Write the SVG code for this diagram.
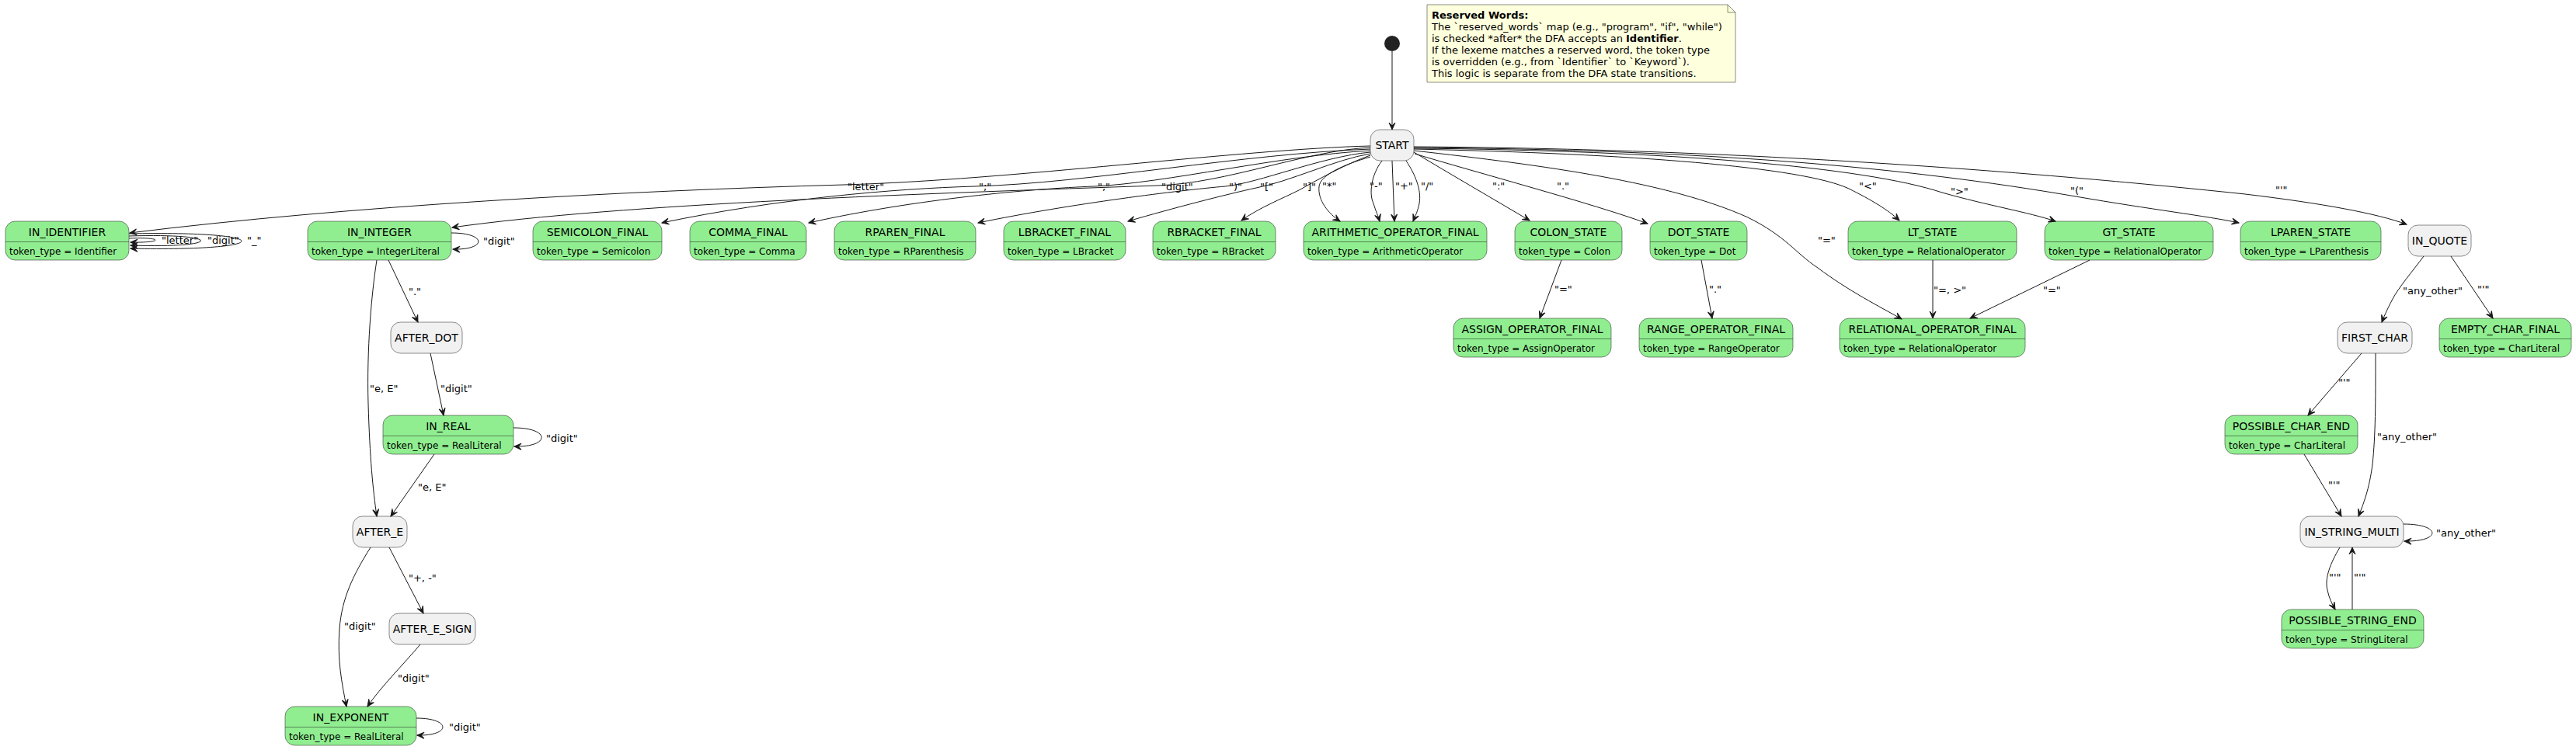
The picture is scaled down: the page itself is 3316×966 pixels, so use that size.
<svg xmlns="http://www.w3.org/2000/svg" width="3316" height="966" viewBox="0 0 3316 966">
<style>
.g{fill:#90EE90;stroke:#181818;stroke-width:0.5}
.s{fill:#F1F1F1;stroke:#181818;stroke-width:0.5}
.sep{stroke:#181818;stroke-width:0.5}
.n{font-family:"DejaVu Sans",sans-serif;font-size:14px;text-anchor:middle;fill:#000}
.d{font-family:"DejaVu Sans",sans-serif;font-size:12px;fill:#000}
.l{font-family:"DejaVu Sans",sans-serif;font-size:13px;fill:#000}
.nt{font-family:"DejaVu Sans",sans-serif;font-size:13px;fill:#000}
.e{fill:none;stroke:#181818;stroke-width:1;marker-end:url(#a)}
</style>
<defs>
<marker id="a" markerUnits="userSpaceOnUse" markerWidth="14" markerHeight="12" viewBox="-11 -6 12 12" refX="0" refY="0" orient="auto">
<path d="M0,0 L-9,-4 L-5,0 L-9,4 Z" fill="#181818" stroke="#181818" stroke-width="1"/>
</marker>
</defs>
<rect width="3316" height="966" fill="#FFFFFF"/>

<g id="note">
<path d="M1837,6 L1837,106 L2234,106 L2234,16 L2224,6 Z" fill="#FEFFDD" stroke="#181818" stroke-width="0.5"/>
<path d="M2224,6 L2224,16 L2234,16" fill="none" stroke="#181818" stroke-width="0.5"/>
<text class="nt" x="1843" y="23.5" font-weight="bold">Reserved Words:</text>
<text class="nt" x="1843" y="38.6">The `reserved_words` map (e.g., "program", "if", "while")</text>
<text class="nt" x="1843" y="53.7">is checked *after* the DFA accepts an <tspan font-weight="bold">Identifier</tspan>.</text>
<text class="nt" x="1843" y="68.8">If the lexeme matches a reserved word, the token type</text>
<text class="nt" x="1843" y="83.9">is overridden (e.g., from `Identifier` to `Keyword`).</text>
<text class="nt" x="1843" y="99">This logic is separate from the DFA state transitions.</text>
</g>

<g id="initial"><circle cx="1792" cy="56" r="10" fill="#222222"/></g>

<g id="START"><rect class="s" x="1764" y="167" width="56" height="40" rx="12.5"/><text class="n" x="1792" y="192">START</text></g>

<g id="IN_IDENTIFIER"><rect class="g" x="7" y="285" width="159" height="50" rx="12.5"/><line class="sep" x1="7" y1="311.5" x2="166" y2="311.5"/><text class="n" x="86.5" y="304">IN_IDENTIFIER</text><text class="d" x="12" y="327.5">token_type = Identifier</text></g>
<g id="IN_INTEGER"><rect class="g" x="396" y="285" width="185" height="50" rx="12.5"/><line class="sep" x1="396" y1="311.5" x2="581" y2="311.5"/><text class="n" x="488.5" y="304">IN_INTEGER</text><text class="d" x="401" y="327.5">token_type = IntegerLiteral</text></g>
<g id="SEMICOLON_FINAL"><rect class="g" x="686" y="285" width="166" height="50" rx="12.5"/><line class="sep" x1="686" y1="311.5" x2="852" y2="311.5"/><text class="n" x="769" y="304">SEMICOLON_FINAL</text><text class="d" x="691" y="327.5">token_type = Semicolon</text></g>
<g id="COMMA_FINAL"><rect class="g" x="888" y="285" width="150" height="50" rx="12.5"/><line class="sep" x1="888" y1="311.5" x2="1038" y2="311.5"/><text class="n" x="963" y="304">COMMA_FINAL</text><text class="d" x="893" y="327.5">token_type = Comma</text></g>
<g id="RPAREN_FINAL"><rect class="g" x="1074" y="285" width="182" height="50" rx="12.5"/><line class="sep" x1="1074" y1="311.5" x2="1256" y2="311.5"/><text class="n" x="1165" y="304">RPAREN_FINAL</text><text class="d" x="1079" y="327.5">token_type = RParenthesis</text></g>
<g id="LBRACKET_FINAL"><rect class="g" x="1292" y="285" width="157" height="50" rx="12.5"/><line class="sep" x1="1292" y1="311.5" x2="1449" y2="311.5"/><text class="n" x="1370.5" y="304">LBRACKET_FINAL</text><text class="d" x="1297" y="327.5">token_type = LBracket</text></g>
<g id="RBRACKET_FINAL"><rect class="g" x="1484" y="285" width="158" height="50" rx="12.5"/><line class="sep" x1="1484" y1="311.5" x2="1642" y2="311.5"/><text class="n" x="1563" y="304">RBRACKET_FINAL</text><text class="d" x="1489" y="327.5">token_type = RBracket</text></g>
<g id="ARITHMETIC_OPERATOR_FINAL"><rect class="g" x="1678" y="285" width="236" height="50" rx="12.5"/><line class="sep" x1="1678" y1="311.5" x2="1914" y2="311.5"/><text class="n" x="1796" y="304">ARITHMETIC_OPERATOR_FINAL</text><text class="d" x="1683" y="327.5">token_type = ArithmeticOperator</text></g>
<g id="COLON_STATE"><rect class="g" x="1950" y="285" width="138" height="50" rx="12.5"/><line class="sep" x1="1950" y1="311.5" x2="2088" y2="311.5"/><text class="n" x="2019" y="304">COLON_STATE</text><text class="d" x="1955" y="327.5">token_type = Colon</text></g>
<g id="DOT_STATE"><rect class="g" x="2124" y="285" width="125" height="50" rx="12.5"/><line class="sep" x1="2124" y1="311.5" x2="2249" y2="311.5"/><text class="n" x="2186.5" y="304">DOT_STATE</text><text class="d" x="2129" y="327.5">token_type = Dot</text></g>
<g id="LT_STATE"><rect class="g" x="2379" y="285" width="217" height="50" rx="12.5"/><line class="sep" x1="2379" y1="311.5" x2="2596" y2="311.5"/><text class="n" x="2487.5" y="304">LT_STATE</text><text class="d" x="2384" y="327.5">token_type = RelationalOperator</text></g>
<g id="GT_STATE"><rect class="g" x="2632" y="285" width="217" height="50" rx="12.5"/><line class="sep" x1="2632" y1="311.5" x2="2849" y2="311.5"/><text class="n" x="2740.5" y="304">GT_STATE</text><text class="d" x="2637" y="327.5">token_type = RelationalOperator</text></g>
<g id="LPAREN_STATE"><rect class="g" x="2884" y="285" width="181" height="50" rx="12.5"/><line class="sep" x1="2884" y1="311.5" x2="3065" y2="311.5"/><text class="n" x="2974.5" y="304">LPAREN_STATE</text><text class="d" x="2889" y="327.5">token_type = LParenthesis</text></g>
<g id="IN_QUOTE"><rect class="s" x="3100" y="290" width="81" height="40" rx="12.5"/><text class="n" x="3140.5" y="315">IN_QUOTE</text></g>

<g id="AFTER_DOT"><rect class="s" x="503" y="415" width="92" height="40" rx="12.5"/><text class="n" x="549" y="440">AFTER_DOT</text></g>
<g id="ASSIGN_OPERATOR_FINAL"><rect class="g" x="1871" y="410" width="203" height="50" rx="12.5"/><line class="sep" x1="1871" y1="436.5" x2="2074" y2="436.5"/><text class="n" x="1972.5" y="429">ASSIGN_OPERATOR_FINAL</text><text class="d" x="1876" y="452.5">token_type = AssignOperator</text></g>
<g id="RANGE_OPERATOR_FINAL"><rect class="g" x="2110" y="410" width="198" height="50" rx="12.5"/><line class="sep" x1="2110" y1="436.5" x2="2308" y2="436.5"/><text class="n" x="2209" y="429">RANGE_OPERATOR_FINAL</text><text class="d" x="2115" y="452.5">token_type = RangeOperator</text></g>
<g id="RELATIONAL_OPERATOR_FINAL"><rect class="g" x="2368" y="410" width="239" height="50" rx="12.5"/><line class="sep" x1="2368" y1="436.5" x2="2607" y2="436.5"/><text class="n" x="2487.5" y="429">RELATIONAL_OPERATOR_FINAL</text><text class="d" x="2373" y="452.5">token_type = RelationalOperator</text></g>
<g id="FIRST_CHAR"><rect class="s" x="3009" y="415" width="96" height="40" rx="12.5"/><text class="n" x="3057" y="440">FIRST_CHAR</text></g>
<g id="EMPTY_CHAR_FINAL"><rect class="g" x="3140" y="410" width="170" height="50" rx="12.5"/><line class="sep" x1="3140" y1="436.5" x2="3310" y2="436.5"/><text class="n" x="3225" y="429">EMPTY_CHAR_FINAL</text><text class="d" x="3145" y="452.5">token_type = CharLiteral</text></g>

<g id="IN_REAL"><rect class="g" x="493" y="535" width="168" height="50" rx="12.5"/><line class="sep" x1="493" y1="561.5" x2="661" y2="561.5"/><text class="n" x="577" y="554">IN_REAL</text><text class="d" x="498" y="577.5">token_type = RealLiteral</text></g>
<g id="POSSIBLE_CHAR_END"><rect class="g" x="2864" y="535" width="171" height="50" rx="12.5"/><line class="sep" x1="2864" y1="561.5" x2="3035" y2="561.5"/><text class="n" x="2949.5" y="554">POSSIBLE_CHAR_END</text><text class="d" x="2869" y="577.5">token_type = CharLiteral</text></g>

<g id="AFTER_E"><rect class="s" x="454" y="665" width="70" height="40" rx="12.5"/><text class="n" x="489" y="690">AFTER_E</text></g>
<g id="IN_STRING_MULTI"><rect class="s" x="2961" y="665" width="133" height="40" rx="12.5"/><text class="n" x="3027.5" y="690">IN_STRING_MULTI</text></g>

<g id="AFTER_E_SIGN"><rect class="s" x="501" y="790" width="111" height="40" rx="12.5"/><text class="n" x="556.5" y="815">AFTER_E_SIGN</text></g>
<g id="POSSIBLE_STRING_END"><rect class="g" x="2937" y="785" width="183" height="50" rx="12.5"/><line class="sep" x1="2937" y1="811.5" x2="3120" y2="811.5"/><text class="n" x="3028.5" y="804">POSSIBLE_STRING_END</text><text class="d" x="2942" y="827.5">token_type = StringLiteral</text></g>

<g id="IN_EXPONENT"><rect class="g" x="367" y="910" width="169" height="50" rx="12.5"/><line class="sep" x1="367" y1="936.5" x2="536" y2="936.5"/><text class="n" x="451.5" y="929">IN_EXPONENT</text><text class="d" x="372" y="952.5">token_type = RealLiteral</text></g>

<g id="connectors">
<path class="e" d="M1792,66 L1792,167"/>
<path class="e" d="M1764,188 C1600,192 1300,232 1086,238 C800,246 450,265 167,300"/>
<path class="e" d="M1764,190 C1680,194 1580,236 1490,239 C1200,249 800,262 582,293"/>
<path class="e" d="M1764,192 C1600,198 1400,236 1255,240 C1150,243 1000,256 852,287"/>
<path class="e" d="M1764,194 C1650,200 1500,236 1408,240 C1330,243 1180,256 1041,287"/>
<path class="e" d="M1764,196 C1700,202 1620,236 1577,240 C1520,245 1380,262 1259,287"/>
<path class="e" d="M1764,198 C1720,205 1660,234 1617,242 C1580,250 1510,268 1452,285"/>
<path class="e" d="M1764,200 C1735,210 1695,232 1672,245 C1650,256 1620,268 1598,284"/>
<path class="e" d="M1764,202 C1730,212 1700,225 1698,240 C1696,258 1710,275 1725,285"/>
<path class="e" d="M1779,207 C1765,225 1762,250 1768,262 C1771,272 1774,278 1776,285"/>
<path class="e" d="M1792,207 L1795,285"/>
<path class="e" d="M1810,207 C1822,225 1830,245 1827,262 C1825,272 1822,278 1819,285"/>
<path class="e" d="M1820,196 C1870,226 1920,255 1969,284"/>
<path class="e" d="M1821,198 C1900,222 2050,262 2121,288"/>
<path class="e" d="M1820,194 C1990,213 2150,235 2250,280 C2300,305 2310,325 2340,345 C2380,375 2420,395 2448,411"/>
<path class="e" d="M1820,192 C2100,198 2320,215 2380,243 C2410,258 2430,270 2445,284"/>
<path class="e" d="M1820,191 C2150,194 2400,215 2500,248 C2560,265 2610,273 2646,285"/>
<path class="e" d="M1820,190 C2200,193 2450,215 2672,253 C2770,270 2840,278 2882,287"/>
<path class="e" d="M1820,189 C2300,192 2700,230 2890,250 C2990,262 3060,275 3098,289"/>
<path class="e" d="M166,307 C211,305 211,313 168,312"/>
<path class="e" d="M166,304 C289,300 289,320 168,316"/>
<path class="e" d="M166,301 C359,297 359,324 168,320"/>
<path class="e" d="M581,300 C627,300 627,322 583,321"/>
<path class="e" d="M500,335 L538,415"/>
<path class="e" d="M485,335 C478,380 472,450 474,520 C476,590 480,630 485,665"/>
<path class="e" d="M554,455 L571,535"/>
<path class="e" d="M661,551 C709,551 709,576 662,575"/>
<path class="e" d="M559,585 L503,665"/>
<path class="e" d="M501,705 L545,790"/>
<path class="e" d="M477,705 C455,740 440,770 437,810 C434,850 440,880 446,910"/>
<path class="e" d="M541,830 C520,855 490,885 473,910"/>
<path class="e" d="M536,925 C581,925 581,948 537,947"/>
<path class="e" d="M2010,335 L1982,410"/>
<path class="e" d="M2190,335 L2204,410"/>
<path class="e" d="M2488,335 L2488,410"/>
<path class="e" d="M2690,335 L2536,410"/>
<path class="e" d="M3120,330 C3105,350 3088,370 3080,385 C3072,400 3068,410 3066,415"/>
<path class="e" d="M3155,330 L3209,410"/>
<path class="e" d="M3040,455 L2971,535"/>
<path class="e" d="M3058,455 C3058,520 3058,560 3054,598 C3050,630 3042,650 3036,665"/>
<path class="e" d="M2966,585 L3014,665"/>
<path class="e" d="M3094,675 C3143,675 3143,698 3095,697"/>
<path class="e" d="M3012,705 C3000,725 2992,745 2996,760 C2998,770 3002,778 3006,785"/>
<path class="e" d="M3028,785 L3028,705"/>
</g>

<g id="labels">
<text class="l" x="1091" y="244.5">"letter"</text>
<text class="l" x="1495" y="244.5">"digit"</text>
<text class="l" x="1260" y="244.5">";"</text>
<text class="l" x="1413" y="244.5">","</text>
<text class="l" x="1582" y="244.5">")"</text>
<text class="l" x="1622" y="244.5">"["</text>
<text class="l" x="1677" y="244.5">"]"</text>
<text class="l" x="1702" y="243.5">"*"</text>
<text class="l" x="1763" y="243.5">"-"</text>
<text class="l" x="1796" y="243.5">"+"</text>
<text class="l" x="1829" y="243.5">"/"</text>
<text class="l" x="1921" y="243.5">":"</text>
<text class="l" x="2004" y="243.5">"."</text>
<text class="l" x="2340" y="313.5">"="</text>
<text class="l" x="2393" y="243.5">"&lt;"</text>
<text class="l" x="2511" y="250.5">"&gt;"</text>
<text class="l" x="2665" y="249.5">"("</text>
<text class="l" x="2929" y="248.5">"'"</text>
<text class="l" x="208" y="313.5">"letter"</text>
<text class="l" x="267" y="313.5">"digit"</text>
<text class="l" x="318" y="313.5">"_"</text>
<text class="l" x="622" y="314.5">"digit"</text>
<text class="l" x="526" y="379.5">"."</text>
<text class="l" x="476" y="504.5">"e, E"</text>
<text class="l" x="567" y="504.5">"digit"</text>
<text class="l" x="703" y="568.5">"digit"</text>
<text class="l" x="538" y="631.5">"e, E"</text>
<text class="l" x="526" y="748.5">"+, -"</text>
<text class="l" x="443" y="810.5">"digit"</text>
<text class="l" x="512" y="877.5">"digit"</text>
<text class="l" x="578" y="940.5">"digit"</text>
<text class="l" x="2001" y="376.5">"="</text>
<text class="l" x="2200" y="376.5">"."</text>
<text class="l" x="2489" y="377.5">"=, &gt;"</text>
<text class="l" x="2630" y="377.5">"="</text>
<text class="l" x="3093" y="378.5">"any_other"</text>
<text class="l" x="3189" y="376.5">"'"</text>
<text class="l" x="3010" y="496.5">"'"</text>
<text class="l" x="3060" y="566.5">"any_other"</text>
<text class="l" x="2997" y="628.5">"'"</text>
<text class="l" x="3136" y="690.5">"any_other"</text>
<text class="l" x="2998" y="747.5">"'"</text>
<text class="l" x="3030" y="747.5">"'"</text>
</g>
</svg>
